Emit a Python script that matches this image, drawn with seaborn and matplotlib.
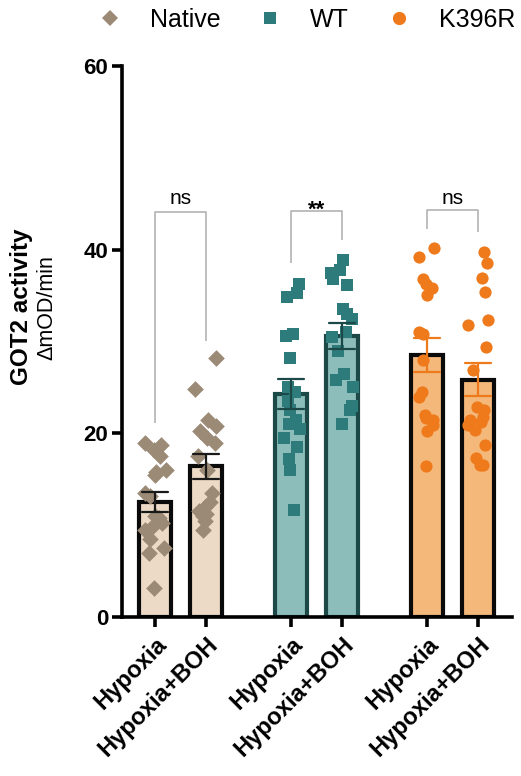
import numpy as np
import pandas as pd
import matplotlib
matplotlib.use("Agg")
import matplotlib.pyplot as plt
from matplotlib.lines import Line2D
import seaborn as sns

# ---------------- data ----------------
genotypes = ["Native", "WT", "K396R"]
conditions = ["Hypoxia", "Hypoxia+BOH"]

native_hyp = [19.0, 18.7, 18.2, 17.5, 16.0, 15.8, 15.5, 13.5, 13.2, 11.0, 10.8, 10.2, 9.8, 9.5, 8.5, 7.5, 7.0, 3.2]
native_boh = [28.2, 24.8, 21.5, 20.8, 20.2, 19.5, 19.0, 17.5, 16.0, 13.5, 12.5, 12.0, 11.5, 11.2, 11.0, 10.5, 9.5]
wt_hyp = [36.3, 35.3, 34.8, 30.8, 30.6, 28.2, 25.0, 24.5, 23.5, 22.5, 21.5, 21.0, 20.5, 19.5, 18.5, 17.2, 16.0, 11.7]
wt_boh = [38.9, 37.8, 37.5, 36.8, 36.2, 33.5, 33.0, 32.5, 31.0, 30.5, 29.0, 26.5, 25.8, 25.0, 23.0, 22.5, 21.0]
k396r_hyp = [40.2, 39.2, 36.8, 36.3, 35.8, 35.1, 31.0, 30.8, 28.0, 24.5, 24.0, 22.0, 21.7, 21.5, 20.9, 20.2, 16.4]
k396r_boh = [39.8, 38.5, 36.9, 35.4, 32.3, 31.8, 29.4, 26.9, 22.9, 22.5, 21.8, 21.5, 21.2, 20.9, 20.4, 18.7, 17.3, 16.6, 16.5]

significance = ["ns", "**", "ns"]
# bracket leg ends (value units) for left / right legs
bracket_top = [44.1, 44.2, 44.3]
leg_left = [21.1, 38.6, 42.2]
leg_right = [30.1, 41.1, 41.9]

y_ticks = [0, 20, 40, 60]
y_label = "GOT2 activity"
y_sublabel = "ΔmOD/min"

# ---------------- style ----------------
positions = [[0.0, 1.0], [2.67, 3.67], [5.33, 6.33]]
markers = ["D", "s", "o"]
marker_sizes = [8.5, 8.2, 8.8]
marker_colors = ["#9b8b76", "#2e7b7b", "#ee7a1c"]
fill_colors = ["#ecdac6", "#8cbdbb", "#f4b87b"]
edge_colors = ["#0a0a0a", "#1d4848", "#0a0a0a"]
err_colors = ["#1a1a1a", "#1d4848", "#ee7a1c"]

sns.set_theme(style="ticks")
plt.rcParams["font.family"] = ["Liberation Sans", "DejaVu Sans"]
plt.rcParams["text.color"] = "black"
plt.rcParams["xtick.color"] = "black"
plt.rcParams["ytick.color"] = "black"
plt.rcParams["axes.labelcolor"] = "black"

series = {
    ("Native", "Hypoxia"): native_hyp,
    ("Native", "Hypoxia+BOH"): native_boh,
    ("WT", "Hypoxia"): wt_hyp,
    ("WT", "Hypoxia+BOH"): wt_boh,
    ("K396R", "Hypoxia"): k396r_hyp,
    ("K396R", "Hypoxia+BOH"): k396r_boh,
}

rows = []
for gi, g in enumerate(genotypes):
    for ci, c in enumerate(conditions):
        for v in series[(g, c)]:
            rows.append({"genotype": g, "condition": c, "pos": positions[gi][ci], "value": v})
df = pd.DataFrame(rows)

fig = plt.figure(figsize=(5.21, 7.76), dpi=100)
ax = fig.add_axes([122 / 521, 1 - 617 / 776, (512 - 122) / 521, (617 - 66) / 776])

np.random.seed(7)
for gi, g in enumerate(genotypes):
    sub = df[df["genotype"] == g]
    sns.barplot(data=sub, x="pos", y="value", native_scale=True, ax=ax,
                width=0.62, color=fill_colors[gi], saturation=1,
                edgecolor=edge_colors[gi], linewidth=3.0,
                errorbar="se", capsize=0.5,
                err_kws={"color": err_colors[gi], "linewidth": 1.6, "zorder": 5})
    sns.stripplot(data=sub, x="pos", y="value", native_scale=True, ax=ax,
                  jitter=0.22, marker=markers[gi], size=marker_sizes[gi],
                  color=marker_colors[gi], linewidth=0, zorder=3)

# significance brackets
for gi in range(3):
    x0, x1 = positions[gi]
    ax.plot([x0, x0, x1, x1], [leg_left[gi], bracket_top[gi], bracket_top[gi], leg_right[gi]],
            color="#b3b3b3", linewidth=1.2, zorder=2, solid_capstyle="butt")
    xm = (x0 + x1) / 2
    if significance[gi] == "**":
        ax.text(xm, 43.7, significance[gi], ha="center", va="baseline",
                fontsize=16, fontweight="bold", color="black")
    else:
        ax.text(xm, 45.0, significance[gi], ha="center", va="baseline",
                fontsize=15, color="black")

ax.set_xlim(-0.647, 7.0)
ax.set_ylim(0, 60)
ax.set_yticks(y_ticks)
ax.set_yticklabels([str(t) for t in y_ticks], fontsize=16, fontweight="bold")
flat_pos = [p for pair in positions for p in pair]
ax.set_xticks(flat_pos)
ax.set_xticklabels(conditions * 3, rotation=45, ha="right", rotation_mode="anchor",
                   fontsize=17, fontweight="bold")
ax.set_xlabel("")
ax.set_ylabel("")
for s in ["top", "right"]:
    ax.spines[s].set_visible(False)
for s in ["left", "bottom"]:
    ax.spines[s].set_linewidth(2.6)
    ax.spines[s].set_color("black")
ax.tick_params(axis="both", length=7, width=2.6, color="black", labelcolor="black", direction="out")
ax.tick_params(axis="y", pad=3)
ax.tick_params(axis="x", pad=4)

# y labels
fig.text(22 / 521, 1 - 307 / 776, y_label, rotation=90, ha="center", va="center",
         fontsize=17.5, fontweight="bold", color="black")
fig.text(47 / 521, 1 - 308 / 776, y_sublabel, rotation=90, ha="center", va="center",
         fontsize=15.5, color="black")

# legend
handles = [Line2D([], [], linestyle="none", marker=markers[i], markersize=[8, 9, 9.5][i],
                  markerfacecolor=marker_colors[i], markeredgewidth=0)
           for i in range(3)]
fig.legend(handles, genotypes, loc="center", bbox_to_anchor=(0.588, 0.974), ncol=3,
           frameon=False, fontsize=18, handlelength=1.0, handletextpad=1.1,
           columnspacing=1.5, labelcolor="black")

fig.savefig("out.png", dpi=100)
